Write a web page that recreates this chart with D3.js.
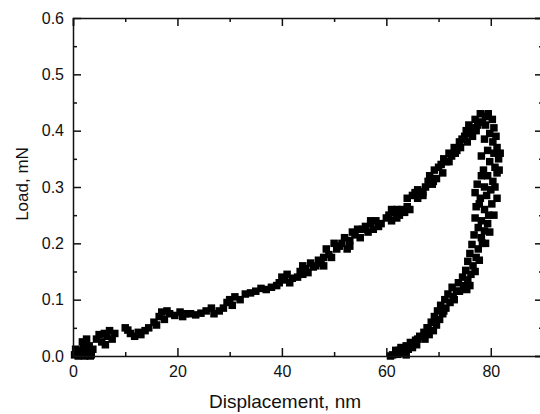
<!DOCTYPE html>
<html>
<head>
<meta charset="utf-8">
<script src="https://cdn.jsdelivr.net/npm/d3@7"></script>
<style>
body{margin:0;background:#fff;}
svg text{font-family:"Liberation Sans",Arial,sans-serif;fill:#111;}
</style>
</head>
<body>
<div id="chart"></div>
<script>
// ticks
var xTicks = [0,20,40,60,80];
var xMinor = [10,30,50,70,90];
var yTicks = [0.0,0.1,0.2,0.3,0.4,0.5,0.6];
var yMinor = [0.05,0.15,0.25,0.35,0.45,0.55];

// loading branch (displacement nm, load mN)
var loadX = [0.3,0.8,1.2,1.6,2.0,2.4,2.8,3.1,3.5,1.0,2.2,3.3,0.5,1.8,2.6,3.8,
  4.5,5.0,5.5,6.0,6.5,7.0,7.5,6.2,8.0,
  10,10.5,11,11.8,12.5,13,13.8,14.5,
  15.5,16,16.5,17,17.5,18,18.5,
  19.5,20.5,21,21.5,22.5,23.5,24.5,25.5,26.5,27,28,
  28.8,29.5,30,30.5,31,32,33,34,35,36,37,38,
  39,39.5,40,40.5,41,41.5,42,
  43,43.5,44,44.5,45,45.5,46,46.5,
  47,47.5,48,48.5,49,49.5,50,50.5,51,
  51.5,52,52.5,53,53.5,54,54.5,55,
  55.5,56,56.5,57,57.5,58,58.5,59,
  60,60.5,61,61.5,62,62.5,63,63.5,64,64.5,
  64,65,65.5,66,66.5,67,67.5,
  68,68.3,68.8,69.2,69.6,70,70.5,
  71,71.5,72,72.5,73,73.5,74,
  74.5,75,75.3,75.8,76.2,76.6,77,77.5,78.2,79,79.5,
  66,67,69,70.8,72,73.2,74.2,75.5,76.5,77.2,78,61,62,57,53,48,44];
var loadY = [0.002,0.005,0.01,0.004,0.015,0.022,0.008,0.018,0.002,0.0,0.0,0.0,0.012,0.025,0.03,0.012,
  0.03,0.038,0.025,0.04,0.035,0.045,0.03,0.02,0.04,
  0.05,0.046,0.04,0.035,0.042,0.038,0.045,0.05,
  0.06,0.055,0.07,0.078,0.065,0.08,0.075,
  0.072,0.078,0.07,0.075,0.075,0.073,0.076,0.08,0.085,0.075,0.08,
  0.085,0.095,0.1,0.09,0.105,0.1,0.11,0.112,0.115,0.12,0.118,0.122,
  0.125,0.13,0.14,0.135,0.145,0.13,0.138,
  0.14,0.15,0.16,0.155,0.148,0.165,0.158,0.16,
  0.17,0.165,0.175,0.19,0.18,0.175,0.2,0.19,0.195,
  0.2,0.21,0.19,0.205,0.22,0.215,0.225,0.21,
  0.225,0.23,0.22,0.235,0.225,0.24,0.23,0.235,
  0.245,0.25,0.24,0.255,0.26,0.25,0.26,0.255,0.265,0.26,
  0.28,0.285,0.29,0.28,0.292,0.29,0.3,
  0.31,0.32,0.305,0.33,0.315,0.335,0.34,
  0.35,0.345,0.36,0.355,0.37,0.365,0.38,
  0.385,0.39,0.4,0.41,0.395,0.405,0.42,0.41,0.415,0.425,0.43,
  0.295,0.285,0.31,0.325,0.345,0.36,0.37,0.38,0.39,0.4,0.43,0.26,0.245,0.24,0.195,0.16,0.145];

// unloading branch
var unloadX = [79.5,80.3,79.0,80.6,79.8,81.0,78.8,80.4,81.2,79.4,80.6,78.2,81.5,79.8,80.8,78.6,81.2,79.4,80.4,77.4,
  78.8,80.0,77.0,79.2,78.0,80.2,77.2,78.8,79.6,77.0,78.2,79.4,77.6,78.8,76.8,78.2,79.0,76.4,77.6,76.0,
  77.2,75.6,76.6,75.2,76.2,74.6,75.6,73.8,74.8,72.6,75.4,73.4,71.8,72.8,71.2,72.2,70.4,71.4,69.8,70.8,
  69.2,70.2,68.6,69.6,67.8,69.0,67.2,68.2,66.4,67.4,65.6,64.6,65.8,63.8,62.8,64.2,61.8,63.2,62.2,61.2,63.8,60.8,
  81.6,81.8,80.8,81.2,80.6,79.8,78.4,77.8,77,76,74,73,71,69.5,68,66,65,62.5,78.2,77.8,78.4];
var unloadY = [0.428,0.42,0.41,0.405,0.395,0.39,0.385,0.38,0.37,0.365,0.36,0.355,0.35,0.345,0.335,0.33,0.325,0.32,0.31,0.305,
  0.3,0.295,0.29,0.285,0.28,0.27,0.265,0.26,0.25,0.245,0.24,0.235,0.228,0.222,0.215,0.21,0.2,0.198,0.19,0.182,
  0.175,0.168,0.16,0.152,0.145,0.14,0.135,0.13,0.125,0.122,0.118,0.115,0.11,0.105,0.1,0.095,0.09,0.085,0.08,0.075,
  0.07,0.065,0.06,0.055,0.05,0.045,0.042,0.038,0.035,0.03,0.028,0.024,0.02,0.018,0.015,0.012,0.01,0.006,0.003,0.002,0.002,0.0,
  0.33,0.36,0.3,0.28,0.25,0.22,0.2,0.17,0.15,0.125,0.115,0.1,0.08,0.06,0.05,0.03,0.015,0.01,0.32,0.27,0.415];

var W = 540, H = 414;
var m = {l:73, t:18, r:543, b:356};

var svg = d3.select("#chart").append("svg").attr('width',W).attr('height',H);

var x = d3.scaleLinear().domain([0,90]).range([m.l,m.r]);
var y = d3.scaleLinear().domain([0,0.6]).range([m.b,m.t]);

// points
var pts = loadX.map((d,i)=>[d,loadY[i]]).concat(unloadX.map((d,i)=>[d,unloadY[i]]));
var s = 7.5;
svg.append('g').selectAll('rect').data(pts).enter().append('rect')
  .attr('x',d=>x(d[0])-s/2).attr('y',d=>y(d[1])-s/2)
  .attr('width',s).attr('height',s).style('fill','#000');

// axes (ticks pointing inward)
function styleAxis(g){
  g.selectAll('path,line').style('stroke','#111').style('stroke-width',1.5);
  g.selectAll('text').style('font-size','16px').style('fill','#111')
   .style('font-family','"Liberation Sans",Arial,sans-serif');
}
var gx = svg.append('g').attr('transform','translate(0,'+m.b+')')
  .call(d3.axisBottom(x).tickValues(xTicks).tickSizeInner(-8).tickSizeOuter(0).tickPadding(10).tickFormat(d3.format('d')));
styleAxis(gx);
var gxm = svg.append('g').attr('transform','translate(0,'+m.b+')')
  .call(d3.axisBottom(x).tickValues(xMinor).tickSize(-4).tickFormat(''));
styleAxis(gxm); gxm.select('path').remove();

var gt = svg.append('g').attr('transform','translate(0,'+m.t+')')
  .call(d3.axisTop(x).tickValues(xTicks).tickSize(-8).tickFormat(''));
styleAxis(gt);
var gtm = svg.append('g').attr('transform','translate(0,'+m.t+')')
  .call(d3.axisTop(x).tickValues(xMinor).tickSize(-4).tickFormat(''));
styleAxis(gtm); gtm.select('path').remove();

var gy = svg.append('g').attr('transform','translate('+m.l+',0)')
  .call(d3.axisLeft(y).tickValues(yTicks).tickSizeInner(-8).tickSizeOuter(0).tickPadding(9).tickFormat(d3.format('.1f')));
styleAxis(gy);
var gym = svg.append('g').attr('transform','translate('+m.l+',0)')
  .call(d3.axisLeft(y).tickValues(yMinor).tickSize(-4).tickFormat(''));
styleAxis(gym); gym.select('path').remove();

var gr = svg.append('g').attr('transform','translate('+m.r+',0)')
  .call(d3.axisRight(y).tickValues(yTicks).tickSize(-8).tickFormat(''));
styleAxis(gr);
var grm = svg.append('g').attr('transform','translate('+m.r+',0)')
  .call(d3.axisRight(y).tickValues(yMinor).tickSize(-4).tickFormat(''));
styleAxis(grm); grm.select('path').remove();

// titles
svg.append('text').attr('x',285).attr('y',408).attr('text-anchor','middle')
  .style('font-size','19px').text('Displacement, nm');
svg.append('text').attr('transform','translate(28,184) rotate(-90)').attr('text-anchor','middle')
  .style('font-size','17px').text('Load, mN');
</script>
</body>
</html>
